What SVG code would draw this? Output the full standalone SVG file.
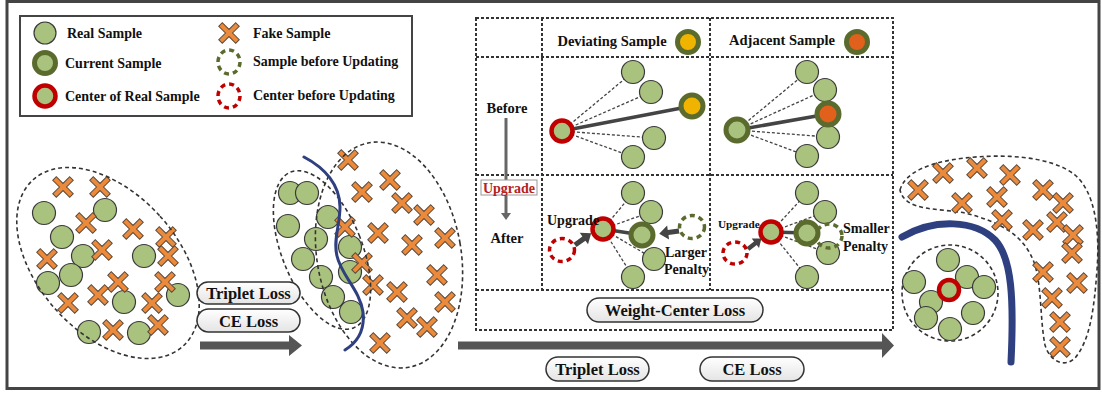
<svg xmlns="http://www.w3.org/2000/svg" width="1102" height="396" viewBox="0 0 1102 396">
  <defs>
    <style>
      text { font-family: "Liberation Serif", "Times New Roman", serif; font-weight: bold; fill: #111; }
      .lg { font-size: 14px; }
      .hd { font-size: 14.5px; }
      .pl { font-size: 16.5px; text-anchor: middle; }
      .cl { font-size: 14px; }
      .s { fill: #a9c27e; stroke: #3a3a3a; stroke-width: 1.2; }
      .cur { fill: #a9c27e; stroke: #5b6b2e; stroke-width: 5; }
      .ctr { fill: #a9c27e; stroke: #c00000; stroke-width: 4.5; }
      .fake { fill: #ec8a3c; stroke: #5c4a3a; stroke-width: 1; }
      .dsh { fill: none; stroke: #333; stroke-width: 1.6; stroke-dasharray: 4 3; }
      .grid { fill: none; stroke: #333; stroke-width: 2; stroke-dasharray: 3 2; }
      .con { stroke: #444; stroke-width: 1.3; stroke-dasharray: 3 2; }
      .thick { stroke: #444; stroke-width: 3.5; }
      .oldS { fill: none; stroke: #5b6b2e; stroke-width: 3.5; stroke-dasharray: 5 4; }
      .oldC { fill: none; stroke: #c00000; stroke-width: 3.5; stroke-dasharray: 5 4; }
      .pill { fill: url(#pillGrad); stroke: #333; stroke-width: 1.5; }
      .blk { fill: #444; }
      .bigArrow { fill: #555; }
      .bound { fill: none; stroke: #2f4080; stroke-linecap: round; }
    </style>
    <linearGradient id="pillGrad" x1="0" y1="0" x2="0" y2="1">
      <stop offset="0" stop-color="#ffffff"/>
      <stop offset="1" stop-color="#e4e4e4"/>
    </linearGradient>
    <!-- fake sample: a plus shape turned 45 degrees -->
    <path id="xm" class="fake" transform="rotate(45)" d="M-2.5,-12 H2.5 V-2.5 H12 V2.5 H2.5 V12 H-2.5 V2.5 H-12 V-2.5 H-2.5 Z"/>
    <!-- short block arrow pointing along +x, length 20 -->
    <path id="ba" class="blk" d="M0,-2.6 H11 V-7 L20,0 L11,7 V2.6 H0 Z"/>
  </defs>

  <!-- outer frame -->
  <rect x="7" y="1.5" width="1092" height="387" fill="#fff" stroke="#444" stroke-width="3"/>

  <!-- legend -->
  <g id="legend">
    <rect x="20" y="16" width="392" height="100" fill="#fff" stroke="#444" stroke-width="2"/>
    <circle class="s" cx="45" cy="33" r="11"/>
    <text class="lg" x="67" y="38">Real Sample</text>
    <circle class="cur" cx="45" cy="63" r="10.5"/>
    <text class="lg" x="65" y="68">Current Sample</text>
    <circle class="ctr" cx="45" cy="96" r="10.5"/>
    <text class="lg" x="65" y="101">Center of Real Sample</text>
    <use href="#xm" x="229" y="33"/>
    <text class="lg" x="253" y="38">Fake Sample</text>
    <ellipse class="oldS" cx="229" cy="62" rx="11" ry="12"/>
    <text class="lg" x="253" y="66">Sample before Updating</text>
    <ellipse class="oldC" cx="229" cy="96" rx="11" ry="12"/>
    <text class="lg" x="253" y="100">Center before Updating</text>
  </g>

  <!-- initial feature space -->
  <g id="cluster-initial">
    <circle class="s" cx="44" cy="213" r="11.5"/>
    <circle class="s" cx="105" cy="210" r="11.5"/>
    <circle class="s" cx="62" cy="237" r="11.5"/>
    <circle class="s" cx="83" cy="256" r="11.5"/>
    <circle class="s" cx="144" cy="256" r="11.5"/>
    <circle class="s" cx="71" cy="275" r="11.5"/>
    <circle class="s" cx="48" cy="283" r="11.5"/>
    <circle class="s" cx="124" cy="302" r="11.5"/>
    <circle class="s" cx="178" cy="295" r="11.5"/>
    <circle class="s" cx="89" cy="332" r="11.5"/>
    <circle class="s" cx="139" cy="333" r="11.5"/>
    <use href="#xm" x="63" y="187"/>
    <use href="#xm" x="100" y="187"/>
    <use href="#xm" x="86" y="223"/>
    <use href="#xm" x="133" y="229"/>
    <use href="#xm" x="166" y="237"/>
    <use href="#xm" x="102" y="250"/>
    <use href="#xm" x="47" y="259"/>
    <use href="#xm" x="168" y="256"/>
    <use href="#xm" x="118" y="282"/>
    <use href="#xm" x="165" y="282"/>
    <use href="#xm" x="68" y="303"/>
    <use href="#xm" x="98" y="295"/>
    <use href="#xm" x="152" y="303"/>
    <use href="#xm" x="113" y="330"/>
    <use href="#xm" x="158" y="325"/>
    <ellipse class="dsh" cx="108" cy="263" rx="70" ry="112" transform="rotate(-42 108 263)"/>
  </g>

  <!-- after triplet + CE loss -->
  <g id="cluster-separated">
    <circle class="s" cx="290" cy="193" r="11.5"/>
    <circle class="s" cx="307" cy="193" r="11.5"/>
    <circle class="s" cx="288" cy="226" r="11.5"/>
    <circle class="s" cx="328" cy="217" r="11.5"/>
    <circle class="s" cx="316" cy="239" r="11.5"/>
    <circle class="s" cx="350" cy="247" r="11.5"/>
    <circle class="s" cx="303" cy="259" r="11.5"/>
    <circle class="s" cx="350" cy="272" r="11.5"/>
    <circle class="s" cx="321" cy="277" r="11.5"/>
    <circle class="s" cx="333" cy="297" r="11.5"/>
    <circle class="s" cx="351" cy="312" r="11.5"/>
    <use href="#xm" x="348" y="160"/>
    <use href="#xm" x="390" y="180"/>
    <use href="#xm" x="362" y="192"/>
    <use href="#xm" x="402" y="203"/>
    <use href="#xm" x="424" y="215"/>
    <use href="#xm" x="345" y="227"/>
    <use href="#xm" x="378" y="233"/>
    <use href="#xm" x="445" y="238"/>
    <use href="#xm" x="412" y="245"/>
    <use href="#xm" x="362" y="263"/>
    <use href="#xm" x="437" y="275"/>
    <use href="#xm" x="373" y="285"/>
    <use href="#xm" x="397" y="292"/>
    <use href="#xm" x="445" y="302"/>
    <use href="#xm" x="407" y="318"/>
    <use href="#xm" x="427" y="327"/>
    <use href="#xm" x="380" y="343"/>
    <ellipse class="dsh" cx="322" cy="250" rx="40" ry="84" transform="rotate(-22 322 250)"/>
    <ellipse class="dsh" cx="389" cy="255" rx="72" ry="114" transform="rotate(-10 389 255)"/>
    <path class="bound" stroke-width="3" d="M304,157 C325,168 340,185 340,207 C340,225 333,240 337,256 C341,275 360,290 363,312 C365,330 358,342 345,350"/>
  </g>

  <!-- losses between the first two stages -->
  <g id="loss-left">
    <rect class="pill" x="197" y="282" width="103" height="22" rx="11"/>
    <text class="pl" x="248.5" y="298.5">Triplet Loss</text>
    <rect class="pill" x="197" y="309" width="103" height="23" rx="11.5"/>
    <text class="pl" x="248.5" y="326.5">CE Loss</text>
    <path class="bigArrow" d="M200,341.5 H289 V335 L302,345.5 L289,356 V349.5 H200 Z"/>
  </g>

  <!-- weight-center loss panel grid -->
  <g id="panel-grid">
    <rect class="grid" x="476" y="18" width="417" height="312"/>
    <line class="grid" x1="476" y1="57" x2="893" y2="57"/>
    <line class="grid" x1="476" y1="175" x2="893" y2="175"/>
    <line class="grid" x1="476" y1="290" x2="893" y2="290"/>
    <line class="grid" x1="542" y1="18" x2="542" y2="290"/>
    <line class="grid" x1="710" y1="18" x2="710" y2="290"/>
  </g>

  <g id="panel-headers">
    <text class="hd" x="612" y="46" text-anchor="middle">Deviating Sample</text>
    <circle class="cur" cx="688" cy="42" r="10.5" style="fill:#f0b400"/>
    <text class="hd" x="782" y="45" text-anchor="middle">Adjacent Sample</text>
    <circle class="cur" cx="857" cy="42" r="10.5" style="fill:#e0601c"/>
  </g>

  <g id="stage-labels">
    <text class="hd" x="507" y="113" text-anchor="middle">Before</text>
    <line x1="506" y1="118" x2="506" y2="214" stroke="#666" stroke-width="3"/>
    <path d="M501,213 L511,213 L506,220 Z" fill="#666"/>
    <rect x="481" y="180" width="56" height="15" fill="#fff" stroke="#999" stroke-width="1"/>
    <text class="cl" x="509" y="192.5" text-anchor="middle" style="fill:#b52222">Upgrade</text>
    <text class="hd" x="507" y="243" text-anchor="middle">After</text>
  </g>

  <!-- deviating sample, before update -->
  <g id="dev-before">
    <line class="con" x1="562" y1="131" x2="633" y2="72"/>
    <line class="con" x1="562" y1="131" x2="651" y2="92"/>
    <line class="con" x1="562" y1="131" x2="654" y2="138"/>
    <line class="con" x1="562" y1="131" x2="633" y2="157"/>
    <line class="thick" x1="562" y1="131" x2="692" y2="106"/>
    <circle class="s" cx="633" cy="72" r="11.5"/>
    <circle class="s" cx="651" cy="92" r="11.5"/>
    <circle class="s" cx="654" cy="138" r="11.5"/>
    <circle class="s" cx="633" cy="157" r="11.5"/>
    <circle class="ctr" cx="562" cy="131" r="10.5"/>
    <circle class="cur" cx="692" cy="106" r="11" style="fill:#f0b400"/>
  </g>

  <!-- adjacent sample, before update -->
  <g id="adj-before">
    <line class="con" x1="737" y1="130" x2="807" y2="72"/>
    <line class="con" x1="737" y1="130" x2="825" y2="90"/>
    <line class="con" x1="737" y1="130" x2="828" y2="137"/>
    <line class="con" x1="737" y1="130" x2="807" y2="156"/>
    <line class="thick" x1="737" y1="130" x2="828" y2="114"/>
    <circle class="s" cx="807" cy="72" r="11.5"/>
    <circle class="s" cx="825" cy="90" r="11.5"/>
    <circle class="s" cx="828" cy="137" r="11.5"/>
    <circle class="s" cx="807" cy="156" r="11.5"/>
    <circle class="cur" cx="737" cy="130" r="11"/>
    <circle class="cur" cx="828" cy="114" r="11" style="fill:#e0601c"/>
  </g>

  <!-- deviating sample, after update -->
  <g id="dev-after">
    <line class="con" x1="603" y1="229" x2="633" y2="193"/>
    <line class="con" x1="603" y1="229" x2="651" y2="212"/>
    <line class="con" x1="603" y1="229" x2="654" y2="259"/>
    <line class="con" x1="603" y1="229" x2="633" y2="277"/>
    <line class="thick" x1="603" y1="229" x2="642" y2="235"/>
    <circle class="s" cx="633" cy="193" r="11.5"/>
    <circle class="s" cx="651" cy="212" r="11.5"/>
    <circle class="s" cx="654" cy="259" r="11.5"/>
    <circle class="s" cx="633" cy="277" r="11.5"/>
    <circle class="ctr" cx="603" cy="229" r="10.5"/>
    <circle class="cur" cx="642" cy="235" r="11"/>
    <ellipse class="oldC" cx="562" cy="250" rx="12.5" ry="11.5"/>
    <use href="#ba" transform="translate(575,245) rotate(-36)"/>
    <ellipse class="oldS" cx="692" cy="227" rx="12.5" ry="11.5"/>
    <use href="#ba" transform="translate(679,231) rotate(172)"/>
    <text class="cl" x="547" y="225">Upgrade</text>
    <text class="cl" x="665" y="257">Larger</text>
    <text class="cl" x="664" y="274">Penalty</text>
  </g>

  <!-- adjacent sample, after update -->
  <g id="adj-after">
    <line class="con" x1="771" y1="232" x2="807" y2="193"/>
    <line class="con" x1="771" y1="232" x2="825" y2="212"/>
    <line class="con" x1="771" y1="232" x2="828" y2="253"/>
    <line class="con" x1="771" y1="232" x2="807" y2="277"/>
    <line class="thick" x1="771" y1="232" x2="807" y2="233"/>
    <circle class="s" cx="807" cy="193" r="11.5"/>
    <circle class="s" cx="825" cy="212" r="11.5"/>
    <circle class="s" cx="828" cy="253" r="11.5"/>
    <circle class="s" cx="807" cy="277" r="11.5"/>
    <ellipse class="oldS" cx="829" cy="236" rx="13" ry="12"/>
    <circle class="ctr" cx="771" cy="232" r="10.5"/>
    <circle class="cur" cx="807" cy="233" r="11"/>
    <ellipse class="oldC" cx="735" cy="253" rx="12" ry="11"/>
    <use href="#ba" transform="translate(748,249) rotate(-38) scale(0.85)"/>
    <text x="718" y="228" style="font-size:11.2px">Upgrade</text>
    <text class="cl" x="843" y="233">Smaller</text>
    <text class="cl" x="843" y="251">Penalty</text>
  </g>

  <g id="loss-center">
    <rect class="pill" x="587" y="298" width="176" height="24" rx="12"/>
    <text class="pl" x="675" y="316">Weight-Center Loss</text>
  </g>

  <!-- losses of the full training stage -->
  <g id="loss-bottom">
    <path class="bigArrow" d="M458,341.5 H882 V333 L894,345.5 L882,358 V349.5 H458 Z"/>
    <rect class="pill" x="546" y="357" width="103" height="24" rx="12"/>
    <text class="pl" x="597.5" y="375">Triplet Loss</text>
    <rect class="pill" x="700" y="357" width="104" height="24" rx="12"/>
    <text class="pl" x="752" y="375">CE Loss</text>
  </g>

  <!-- final feature space -->
  <g id="cluster-final">
    <path class="dsh" d="M900,190 C905,172 930,162 965,158 C1000,154 1050,155 1075,175 C1095,192 1100,230 1097,270 C1094,310 1090,340 1075,358 C1065,368 1050,362 1045,345 C1040,320 1042,290 1035,265 C1025,235 1000,222 965,213 C940,208 905,212 900,190 Z"/>
    <use href="#xm" x="918" y="190"/>
    <use href="#xm" x="943" y="173"/>
    <use href="#xm" x="977" y="168"/>
    <use href="#xm" x="1010" y="175"/>
    <use href="#xm" x="962" y="203"/>
    <use href="#xm" x="997" y="197"/>
    <use href="#xm" x="1043" y="190"/>
    <use href="#xm" x="1063" y="203"/>
    <use href="#xm" x="1002" y="220"/>
    <use href="#xm" x="1033" y="230"/>
    <use href="#xm" x="1057" y="222"/>
    <use href="#xm" x="1073" y="235"/>
    <use href="#xm" x="1072" y="253"/>
    <use href="#xm" x="1043" y="272"/>
    <use href="#xm" x="1077" y="283"/>
    <use href="#xm" x="1052" y="298"/>
    <use href="#xm" x="1060" y="322"/>
    <use href="#xm" x="1060" y="347"/>
    <path class="bound" stroke-width="7" d="M902,237 C935,218 975,220 995,240 C1012,258 1014,300 1011,362"/>
    <circle class="dsh" cx="950" cy="293" r="48"/>
    <circle class="s" cx="948" cy="260" r="11.5"/>
    <circle class="s" cx="967" cy="277" r="11.5"/>
    <circle class="s" cx="984" cy="287" r="11.5"/>
    <circle class="s" cx="914" cy="282" r="11.5"/>
    <circle class="s" cx="931" cy="302" r="11.5"/>
    <circle class="s" cx="926" cy="318" r="11.5"/>
    <circle class="s" cx="973" cy="313" r="11.5"/>
    <circle class="s" cx="950" cy="329" r="11.5"/>
    <circle class="ctr" cx="949" cy="290" r="10"/>
  </g>
</svg>
